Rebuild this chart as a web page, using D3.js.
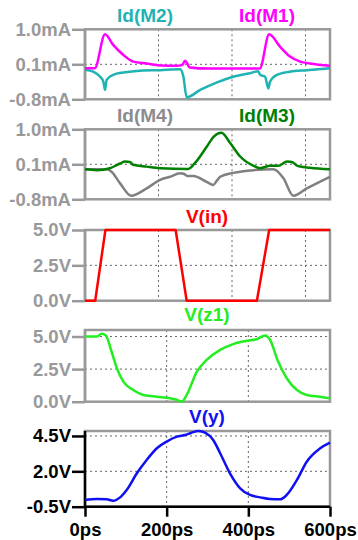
<!DOCTYPE html>
<html><head><meta charset="utf-8">
<script src="https://cdn.jsdelivr.net/npm/d3@7"></script>
<style>
html,body{margin:0;padding:0;background:#fff;}
svg{display:block;}
text{font-family:"Liberation Sans",Arial,sans-serif;font-weight:bold;}
</style>
</head><body>
<svg id="c" width="358" height="540"></svg>
<script>
// ---- data (time in ps) ----
const xTicks = [0, 200, 400, 600];
const xTickLabels = ["0ps", "200ps", "400ps", "600ps"];
const topGridTimes = [180, 360, 540];

const idTicks = [-0.8, 0.1, 1.0];
const idTickLabels = ["-0.8mA", "0.1mA", "1.0mA"];
const vinTicks = [0, 2.5, 5];
const vinTickLabels = ["0.0V", "2.5V", "5.0V"];
const vyTicks = [-0.5, 2.0, 4.5];
const vyTickLabels = ["-0.5V", "2.0V", "4.5V"];

const tM1 = [0, 24, 49, 69, 94, 118, 151, 184, 225, 238, 245, 257, 300, 428, 451, 478, 502, 527, 551, 600];
const iM1 = [0.0, 0.0, 0.87, 0.60, 0.34, 0.17, 0.12, 0.07, 0.06, 0.08, 0.19, 0.02, -0.01, -0.01, 0.87, 0.55, 0.30, 0.17, 0.12, 0.06];

const tM2 = [0, 20, 37, 45, 49, 53, 69, 94, 127, 184, 233, 241, 249, 282, 322, 363, 404, 424, 429, 441, 449, 453, 470, 502, 543, 600];
const iM2 = [-0.04, -0.09, -0.22, -0.35, -0.56, -0.30, -0.17, -0.11, -0.07, -0.05, -0.03, -0.22, -0.75, -0.56, -0.37, -0.22, -0.13, -0.08, -0.17, -0.22, -0.52, -0.35, -0.17, -0.09, -0.05, 0.0];

const tM3 = [0, 29, 61, 86, 98, 110, 118, 151, 184, 253, 269, 298, 316, 334, 356, 380, 413, 429, 453, 473, 495, 507, 520, 551, 600];
const iM3 = [-0.03, -0.05, 0.0, 0.12, 0.17, 0.16, 0.09, 0.04, 0.0, -0.02, 0.13, 0.55, 0.82, 0.91, 0.64, 0.30, 0.06, 0.0, 0.06, 0.06, 0.17, 0.16, 0.06, 0.01, -0.03];

const tM4 = [0, 53, 65, 86, 113, 151, 184, 208, 233, 243, 250, 265, 298, 314, 323, 331, 363, 413, 461, 486, 510, 543, 600];
const iM4 = [-0.03, -0.03, -0.09, -0.39, -0.71, -0.52, -0.30, -0.22, -0.13, -0.15, -0.20, -0.20, -0.35, -0.43, -0.32, -0.22, -0.12, -0.05, -0.03, -0.26, -0.71, -0.52, -0.22];

const tIn = [0, 25, 50, 222, 249, 421, 451, 600];
const vIn = [0, 0, 5, 5, 0, 0, 5, 5];

const tZ1 = [0, 29, 41, 51, 65, 78, 94, 118, 143, 176, 208, 233, 237, 249, 274, 298, 331, 363, 396, 421, 441, 453, 473, 494, 519, 543, 576, 600];
const vZ1 = [5.0, 5.0, 5.21, 5.08, 3.85, 2.57, 1.54, 0.90, 0.52, 0.38, 0.26, 0.05, 0.0, 0.52, 2.31, 3.21, 3.98, 4.42, 4.67, 4.80, 5.08, 4.75, 3.08, 1.80, 0.90, 0.52, 0.38, 0.26];

const tY = [0, 29, 53, 69, 86, 102, 127, 151, 176, 200, 225, 245, 261, 278, 294, 314, 331, 355, 380, 404, 429, 453, 478, 494, 519, 543, 576, 600];
const vY = [-0.03, 0.04, 0.02, -0.08, 0.16, 0.68, 1.86, 2.80, 3.63, 4.10, 4.45, 4.57, 4.73, 4.85, 4.73, 4.22, 3.28, 1.86, 0.80, 0.33, 0.16, 0.04, 0.02, 0.33, 1.39, 2.68, 3.63, 4.03];

// ---- layout ----
const svg = d3.select("#c");
const X0 = 85, X1 = 330;
const x = d3.scaleLinear().domain([0, 600]).range([X0, X1]);
const GRAY = "#999999";
const FS = "18.5px";

const panels = [
  {top: 29.3, bot: 99.3, domain: [-0.8, 1.0], ticks: idTicks, labels: idTickLabels, hgrid: [0.1], vgrid: topGridTimes, dark: false,
   series: [{t: tM2, v: iM2, color: "#1fb3b3"}, {t: tM1, v: iM1, color: "#ff00ff"}],
   titles: [{text: "Id(M2)", x: 145, y: 21.5, color: "#1fb3b3"}, {text: "Id(M1)", x: 267, y: 21.5, color: "#ff00ff"}]},
  {top: 129.3, bot: 199.3, domain: [-0.8, 1.0], ticks: idTicks, labels: idTickLabels, hgrid: [0.1], vgrid: topGridTimes, dark: false,
   series: [{t: tM4, v: iM4, color: "#808080"}, {t: tM3, v: iM3, color: "#008000"}],
   titles: [{text: "Id(M4)", x: 145, y: 121.5, color: "#8c8c8c"}, {text: "Id(M3)", x: 267, y: 121.5, color: "#008000"}]},
  {top: 230, bot: 300.7, domain: [0, 5], ticks: vinTicks, labels: vinTickLabels, hgrid: [2.5], vgrid: topGridTimes, dark: false, linear: true,
   series: [{t: tIn, v: vIn, color: "#ff0000"}],
   titles: [{text: "V(in)", x: 207, y: 223, color: "#ff0000"}]},
  {top: 330, bot: 401.7, domain: [0, 5.5], ticks: vinTicks, labels: vinTickLabels, hgrid: [2.5, 5], vgrid: [200, 400], dark: false,
   series: [{t: tZ1, v: vZ1, color: "#22ee22"}],
   titles: [{text: "V(z1)", x: 207, y: 320.5, color: "#22ee22"}]},
  {top: 431, bot: 506.7, domain: [-0.5, 4.85], ticks: vyTicks, labels: vyTickLabels, hgrid: [2.0, 4.5], vgrid: [200, 400], dark: true,
   series: [{t: tY, v: vY, color: "#1010f0"}],
   titles: [{text: "V(y)", x: 207, y: 423, color: "#1010f0"}]}
];

panels.forEach((p, pi) => {
  const y = d3.scaleLinear().domain(p.domain).range([p.bot, p.top]);
  const g = svg.append("g");
  const ink = p.dark ? "#000" : GRAY;

  // grid
  g.selectAll(".hg").data(p.hgrid).join("line")
    .attr("x1", X0).attr("x2", X1).attr("y1", d => y(d)).attr("y2", d => y(d))
    .attr("stroke", "#666").attr("stroke-width", 1).attr("stroke-dasharray", "2,3");
  g.selectAll(".vg").data(p.vgrid).join("line")
    .attr("x1", d => x(d)).attr("x2", d => x(d)).attr("y1", p.top).attr("y2", p.bot)
    .attr("stroke", "#666").attr("stroke-width", 1).attr("stroke-dasharray", "2,3");

  // box
  g.append("rect").attr("x", X0).attr("y", p.top).attr("width", X1 - X0).attr("height", p.bot - p.top)
    .attr("fill", "none").attr("stroke", GRAY).attr("stroke-width", 2.5);

  // y axis
  const ax = d3.axisLeft(y).tickValues(p.ticks).tickFormat((d, i) => p.labels[i]).tickSize(13).tickPadding(1);
  const ag = g.append("g").attr("transform", `translate(${X0},0)`).call(ax);
  ag.select(".domain").attr("stroke", ink).attr("stroke-width", 2.5).attr("d", `M0,${p.top}V${p.bot}`);
  ag.selectAll(".tick line").attr("stroke", ink).attr("stroke-width", 2.5);
  ag.selectAll(".tick text").attr("fill", p.dark ? "#000" : GRAY).style("font-size", FS).style("font-weight", "bold")
    .style("font-family", '"Liberation Sans",Arial,sans-serif');

  // x axis on bottom panel
  if (pi === panels.length - 1) {
    const bx = d3.axisBottom(x).tickValues(xTicks).tickFormat((d, i) => xTickLabels[i]).tickSize(10).tickPadding(6);
    const bg = g.append("g").attr("transform", `translate(0,${p.bot})`).call(bx);
    bg.select(".domain").attr("stroke", "#000").attr("stroke-width", 2.5).attr("d", `M${X0},0H${X1}`);
    bg.selectAll(".tick line").attr("stroke", "#000").attr("stroke-width", 2.5);
    bg.selectAll(".tick text").attr("fill", "#000").style("font-size", FS).style("font-weight", "bold")
      .style("font-family", '"Liberation Sans",Arial,sans-serif');
  }

  // traces
  p.series.forEach(s => {
    const line = d3.line().x(d => x(d[0])).y(d => y(d[1]))
      .curve(p.linear ? d3.curveLinear : d3.curveMonotoneX);
    g.append("path").datum(s.t.map((t, i) => [t, s.v[i]]))
      .attr("d", line).attr("fill", "none").attr("stroke", s.color)
      .attr("stroke-width", 2.5).attr("stroke-linejoin", "round");
  });

  // titles
  p.titles.forEach(tt => {
    g.append("text").attr("x", tt.x).attr("y", tt.y).attr("text-anchor", "middle")
      .attr("fill", tt.color).style("font-size", "19px").text(tt.text);
  });
});
</script>
</body></html>
